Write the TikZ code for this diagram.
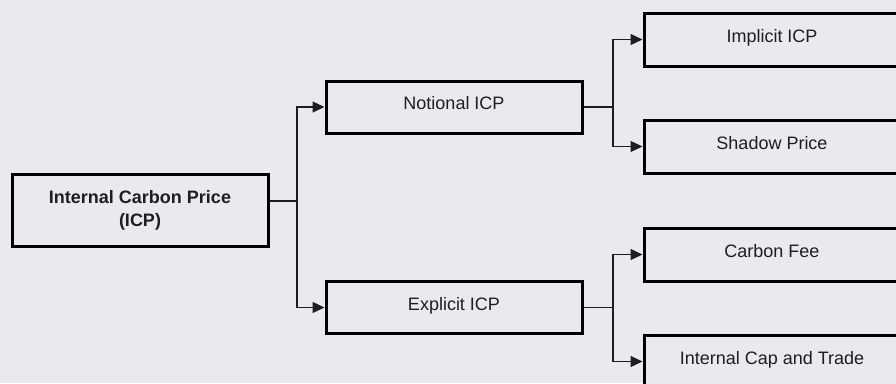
\documentclass[tikz,border=0pt]{standalone}
\usepackage{fontspec}
\setmainfont{Liberation Sans}
\usetikzlibrary{arrows.meta,positioning}
\definecolor{bgcol}{RGB}{233,234,239}
\definecolor{txtcol}{RGB}{30,30,30}
\definecolor{linecol}{RGB}{30,30,30}
\tikzset{
  box/.style={draw=black, line width=3pt, fill=bgcol, rectangle, inner sep=0pt,
    text=txtcol, font=\fontsize{18}{23}\selectfont},
  leafbox/.style={box, minimum width=256pt, minimum height=53pt, text height=13pt, text depth=8pt},
  midbox/.style={box, minimum width=256pt, minimum height=52pt, text height=13pt, text depth=8pt},
  rootbox/.style={box, minimum width=256pt, minimum height=72pt, align=center,
    font=\fontsize{18}{23}\selectfont\bfseries},
  conn/.style={draw=linecol, line width=1.2pt},
  arr/.style={conn, -{Triangle[length=12pt,width=11pt]}}
}
\begin{document}
\begin{tikzpicture}[x=1pt,y=-1pt]
\fill[bgcol] (0,0) rectangle (896,383);
\useasboundingbox (0,0) rectangle (896,383);
\clip (0,0) rectangle (896,383);
\node[rootbox] (root) at (140,210) {Internal Carbon Price\\(ICP)};
\node[midbox] (notional) at (454,107) {Notional ICP};
\node[midbox] (explicit) at (454,307.5) {Explicit ICP};
\node[leafbox] (implicit) at (772,39.5) {Implicit ICP};
\node[leafbox] (shadow) at (772,146.5) {Shadow Price};
\node[leafbox] (fee) at (772,254.5) {Carbon Fee};
\node[leafbox] (cap) at (772,361.5) {Internal Cap and Trade};
\coordinate (rootout) at ([yshift=9pt]root.east);
\coordinate (j1) at (297,201);
\coordinate (j2) at (613,107);
\coordinate (j3) at (613,307.5);
\draw[conn] (rootout) -- (j1);
\draw[arr] (j1) |- (notional.west);
\draw[arr] (j1) |- (explicit.west);
\draw[conn] (notional.east) -- (j2);
\draw[arr] (j2) |- (implicit.west);
\draw[arr] (j2) |- (shadow.west);
\draw[conn] (explicit.east) -- (j3);
\draw[arr] (j3) |- (fee.west);
\draw[arr] (j3) |- (cap.west);
\end{tikzpicture}
\end{document}
